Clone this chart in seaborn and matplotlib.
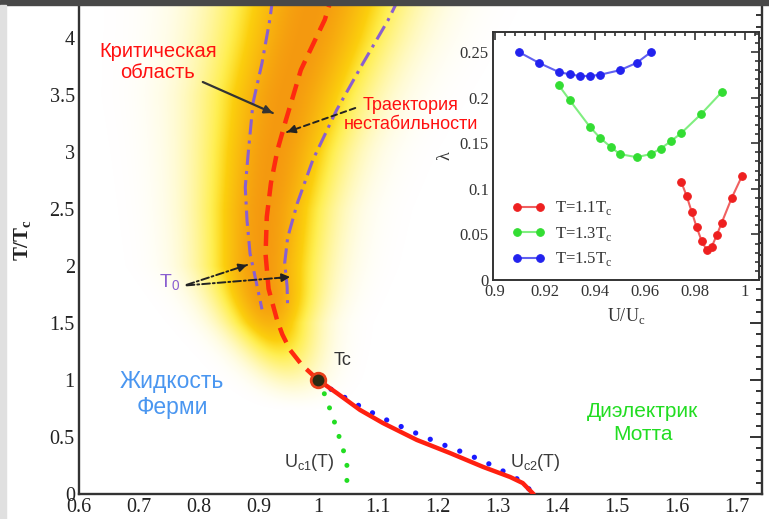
import numpy as np
import pandas as pd
import matplotlib
matplotlib.use("Agg")
import matplotlib.pyplot as plt
import seaborn as sns
from matplotlib.ticker import MultipleLocator, FuncFormatter
from matplotlib.patches import Rectangle

sns.set_style("white")
plt.rcParams['font.family'] = ['Liberation Serif', 'DejaVu Serif']
SANS = ['Liberation Sans', 'DejaVu Sans']

# ---------------- main panel data ----------------
instab_x = [1.0, 0.973, 0.953, 0.940, 0.931, 0.917, 0.912, 0.914, 0.921, 0.932, 0.946, 0.958, 0.971, 0.990, 1.011, 1.022]
instab_y = [1.0, 1.13, 1.263, 1.40, 1.53, 1.80, 2.10, 2.43, 2.73, 3.02, 3.28, 3.49, 3.72, 3.93, 4.16, 4.35]

t0_left_x = [0.924, 0.919, 0.906, 0.891, 0.883, 0.878, 0.881, 0.886, 0.898, 0.906]
t0_left_y = [4.35, 4.158, 3.78, 3.43, 2.99, 2.69, 2.40, 2.11, 1.82, 1.62]
t0_right_x = [1.135, 1.117, 1.075, 1.031, 0.991, 0.965, 0.949, 0.944, 0.948, 0.949]
t0_right_y = [4.35, 4.158, 3.78, 3.37, 2.93, 2.55, 2.25, 2.03, 1.82, 1.62]

first_order_x = [1.0, 1.031, 1.070, 1.108, 1.165, 1.220, 1.276, 1.321, 1.342, 1.36]
first_order_y = [1.0, 0.886, 0.737, 0.623, 0.474, 0.360, 0.237, 0.149, 0.096, 0.0]

uc2_x = [1.0, 1.015, 1.060, 1.107, 1.155, 1.202, 1.249, 1.297, 1.342, 1.36]
uc2_y = [1.0, 0.939, 0.798, 0.667, 0.553, 0.447, 0.351, 0.237, 0.105, 0.0]

uc1_x = [1.0, 1.006, 1.016, 1.025, 1.033, 1.041, 1.048, 1.048]
uc1_y = [1.0, 0.94, 0.798, 0.667, 0.535, 0.404, 0.272, 0.0]

tc_x = [1.0]
tc_y = [1.0]

# critical-region shading guide (centre and width of the glow)
blob_y = [0.6, 1.0, 1.5, 2.0, 2.5, 3.0, 3.5, 4.0, 4.4]
blob_cx = [0.975, 0.953, 0.919, 0.906, 0.911, 0.925, 0.945, 0.975, 0.995]
blob_w = [0.06, 0.08, 0.10, 0.13, 0.14, 0.155, 0.175, 0.19, 0.20]

main_xticks = [0.6, 0.7, 0.8, 0.9, 1.0, 1.1, 1.2, 1.3, 1.4, 1.5, 1.6, 1.7]
main_yticks = [0, 0.5, 1, 1.5, 2, 2.5, 3, 3.5, 4]

# ---------------- inset data ----------------
lam_11_x = [0.9745, 0.9767, 0.9787, 0.9807, 0.9827, 0.9847, 0.9867, 0.9887, 0.9907, 0.9947, 0.9988]
lam_11_y = [0.1077, 0.092, 0.0748, 0.0577, 0.0427, 0.0328, 0.0365, 0.049, 0.0628, 0.090, 0.114]
lam_13_x = [0.9256, 0.930, 0.938, 0.942, 0.9463, 0.950, 0.9567, 0.9623, 0.9663, 0.9703, 0.9745, 0.9825, 0.9907]
lam_13_y = [0.2135, 0.197, 0.168, 0.156, 0.146, 0.138, 0.1347, 0.138, 0.144, 0.152, 0.161, 0.182, 0.206]
lam_15_x = [0.9096, 0.9177, 0.9256, 0.930, 0.934, 0.938, 0.942, 0.950, 0.9567, 0.9623]
lam_15_y = [0.250, 0.238, 0.228, 0.2255, 0.2237, 0.2237, 0.225, 0.230, 0.238, 0.2496]
inset_labels = ['T=1.1T$_\\mathregular{c}$', 'T=1.3T$_\\mathregular{c}$', 'T=1.5T$_\\mathregular{c}$']
inset_xticks = [0.9, 0.92, 0.94, 0.96, 0.98, 1.0]
inset_yticks = [0, 0.05, 0.1, 0.15, 0.2, 0.25]

fmt = FuncFormatter(lambda v, p: f"{v:g}")

W, H = 769, 519
fig = plt.figure(figsize=(W / 100, H / 100), dpi=100)
fig.patch.set_facecolor('white')

ax = fig.add_axes([79 / W, 25 / H, 683 / W, 494 / H])
XMIN, XMAX = 0.6, 0.6 + 683 / 598
YMIN, YMAX = 0.0, 494 / 114

# glow of the critical region
gx = np.linspace(XMIN, XMAX, 500)
gy = np.linspace(YMIN, YMAX, 400)
GX, GY = np.meshgrid(gx, gy)
cx = np.interp(GY, blob_y, blob_cx)
cw = np.interp(GY, blob_y, blob_w)
inten = np.exp(-((GX - cx) / (0.72 * cw)) ** 2)
fade = np.clip((GY - 0.7) / 1.1, 0, 1)
fade = fade * fade * (3 - 2 * fade)
inten = inten * fade
alpha = np.clip(inten * 1.6, 0, 1)
t = np.clip((inten - 0.45) / 0.55, 0, 1)[..., None]
yellow = np.array([1.0, 0.91, 0.05])
orange = np.array([0.96, 0.60, 0.06])
rgb = yellow * (1 - t) + orange * t
img = np.dstack([rgb, alpha])
ax.imshow(img, extent=[XMIN, XMAX, YMIN, YMAX], origin='lower', aspect='auto',
          interpolation='bilinear', zorder=0)

def line(x, y, **kw):
    df = pd.DataFrame({'x': x, 'y': y})
    sns.lineplot(data=df, x='x', y='y', sort=False, estimator=None, ax=ax, **kw)

purple = '#8a5fd0'
line(t0_left_x, t0_left_y, color=purple, lw=2.2, linestyle=(0, (5, 2, 1, 2)), zorder=3)
line(t0_right_x, t0_right_y, color=purple, lw=2.2, linestyle=(0, (5, 2, 1, 2)), zorder=3)
line(instab_x, instab_y, color='#ff2a10', lw=3.2, linestyle=(0, (3.6, 2.0)), zorder=4)
line(uc2_x, uc2_y, color='#1a1aff', lw=3.8, linestyle=(0, (0.01, 3.0)),
     dash_capstyle='round', zorder=4)
line(uc1_x, uc1_y, color='#22dd22', lw=3.6, linestyle=(0, (0.01, 3.0)),
     dash_capstyle='round', zorder=4)
line(first_order_x, first_order_y, color='#ff2010', lw=3.2, zorder=5)
ax.plot(tc_x, tc_y, 'o', ms=10.5, mfc='#2b2b12', mec='#e8401a', mew=2, zorder=6)

ax.set_xlim(XMIN, XMAX)
ax.set_ylim(YMIN, YMAX)
ax.set_xticks(main_xticks)
ax.set_yticks(main_yticks)
ax.xaxis.set_minor_locator(MultipleLocator(0.02))
ax.yaxis.set_minor_locator(MultipleLocator(0.1))
ax.xaxis.set_major_formatter(fmt)
ax.yaxis.set_major_formatter(fmt)
ax.tick_params(which='both', direction='in', right=True, top=False, colors='#333333',
               labelcolor='#222222', width=1.4)
ax.tick_params(which='major', length=8.5, labelsize=14.5, pad=3)
ax.tick_params(which='minor', length=4)
for s in ['left', 'bottom', 'right']:
    ax.spines[s].set_linewidth(1.7)
    ax.spines[s].set_color('#333333')
ax.spines['top'].set_visible(False)
ax.set_xlabel('')
ax.set_ylabel('T/T$_\\mathregular{c}$', fontsize=15, fontweight='bold', color='#222222')
ax.yaxis.set_label_coords(-0.066, 0.515)

# texts
ax.text(0.732, 3.79, 'Критическая\nобласть', family=SANS, fontsize=14.5, color='#ff1010',
        ha='center', va='center', linespacing=1.15, zorder=7)
ax.text(1.155, 3.325, 'Траектория\nнестабильности', family=SANS, fontsize=13, color='#ff1010',
        ha='center', va='center', linespacing=1.2, zorder=7)
ax.text(0.752, 1.85, 'T$_\\mathregular{0}$', family=SANS, fontsize=14, color=purple,
        ha='center', va='center', zorder=7)
ax.text(1.040, 1.175, 'Tc', family=SANS, fontsize=13, color='#333333', ha='center', va='center')
ax.text(0.986, 0.28, 'U$_\\mathregular{c1}$(T)', family=SANS, fontsize=13, color='#3a3a3a',
        ha='center', va='center')
ax.text(1.364, 0.28, 'U$_\\mathregular{c2}$(T)', family=SANS, fontsize=13, color='#3a3a3a',
        ha='center', va='center')
ax.text(0.756, 0.87, 'Жидкость\nФерми', family=SANS, fontsize=16.5, color='#4a96f0',
        ha='center', va='center', linespacing=1.15)
ax.text(1.543, 0.62, 'Диэлектрик\nМотта', family=SANS, fontsize=15, color='#22dd22',
        ha='center', va='center', linespacing=1.25)

def arrow(start, end, ls, color='#222222', lw=1.4):
    ax.annotate('', xy=end, xytext=start,
                arrowprops=dict(arrowstyle='-', color=color, lw=lw, linestyle=ls,
                                shrinkA=0, shrinkB=0), zorder=7)
    dx = end[0] - start[0]
    dy = end[1] - start[1]
    back = (end[0] - 0.12 * dx, end[1] - 0.12 * dy)
    ax.annotate('', xy=end, xytext=back,
                arrowprops=dict(arrowstyle='-|>', color=color, lw=lw,
                                mutation_scale=12, shrinkA=0, shrinkB=0), zorder=7)

arrow((0.807, 3.614), (0.924, 3.342), '-', color='#333333', lw=1.6)
arrow((1.062, 3.386), (0.948, 3.175), (0, (3, 2)))
arrow((0.780, 1.835), (0.881, 2.009), (0, (4, 1.5, 1, 1.5)))
arrow((0.780, 1.83), (0.953, 1.904), (0, (4, 1.5, 1, 1.5)))

# ---------------- inset ----------------
axin = fig.add_axes([493 / W, 1 - 280 / H, 266 / W, 248 / H])
axin.set_facecolor('white')
series = [(lam_11_x, lam_11_y, '#ee2020', '#f06060'),
          (lam_13_x, lam_13_y, '#33dd33', '#80ee80'),
          (lam_15_x, lam_15_y, '#2222ee', '#6060f0')]
for (xs, ys, mc, lc), lab in zip(series, inset_labels):
    df = pd.DataFrame({'x': xs, 'y': ys})
    sns.lineplot(data=df, x='x', y='y', sort=False, estimator=None, ax=axin,
                 color=lc, lw=1.5, marker='o', markersize=5.5, markerfacecolor=mc,
                 markeredgecolor=mc, label=lab)
axin.set_xlim(0.8993, 1.0056)
axin.set_ylim(0, 0.2719)
axin.set_xticks(inset_xticks)
axin.set_yticks(inset_yticks)
axin.xaxis.set_minor_locator(MultipleLocator(0.004))
axin.yaxis.set_minor_locator(MultipleLocator(0.01))
axin.xaxis.set_major_formatter(fmt)
axin.yaxis.set_major_formatter(fmt)
axin.tick_params(which='both', direction='in', top=True, right=True, colors='#333333',
                 labelcolor='#333333', width=1.2)
axin.tick_params(which='major', length=6, labelsize=12, pad=3)
axin.tick_params(which='minor', length=3)
for s in axin.spines.values():
    s.set_linewidth(1.4)
    s.set_color('#333333')
axin.set_xlabel('U/U$_\\mathregular{c}$', fontsize=13, color='#333333')
axin.set_ylabel('λ', fontsize=13, color='#333333')
axin.xaxis.set_label_coords(0.5, -0.105)
axin.yaxis.set_label_coords(-0.15, 0.5)
leg = axin.legend(loc='lower left', bbox_to_anchor=(0.045, 0.02), frameon=False,
                  fontsize=12, handlelength=2.0, numpoints=2, labelspacing=0.45,
                  handletextpad=0.6, borderaxespad=0)
for txt in leg.get_texts():
    txt.set_color('#333333')

# slide frame fragments
fig.patches.append(Rectangle((0, 1 - 5 / H), 1, 5 / H, transform=fig.transFigure,
                             color='#484848', zorder=20))
fig.patches.append(Rectangle((0, 0), 6 / W, 1 - 5 / H, transform=fig.transFigure,
                             color='#e0e0e0', zorder=20))

fig.savefig('out.png', dpi=100)
